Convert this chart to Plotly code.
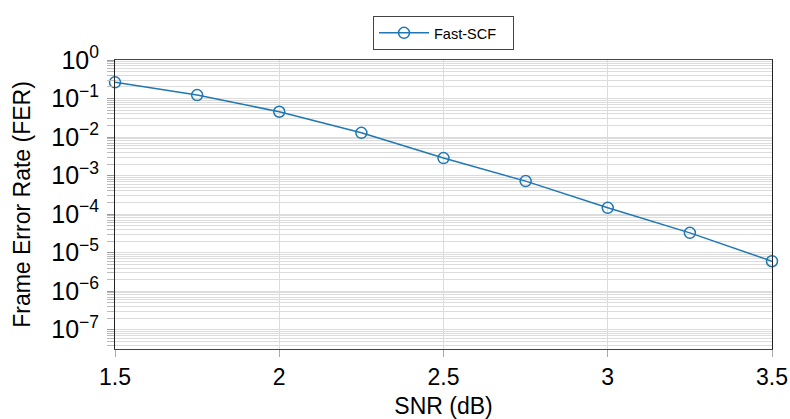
import plotly.graph_objects as go

# Frame error rate of the Fast-SCF decoder versus SNR
snr_db = [1.5, 1.75, 2.0, 2.25, 2.5, 2.75, 3.0, 3.25, 3.5]
fer = [2.63e-1, 1.23e-1, 4.54e-2, 1.29e-2, 2.85e-3, 7.2e-4, 1.46e-4, 3.27e-5, 6.0e-6]

x_ticks = [1.5, 2, 2.5, 3, 3.5]
x_tick_text = ["1.5", "2", "2.5", "3", "3.5"]
y_exponents = [0, -1, -2, -3, -4, -5, -6, -7]

y_tick_vals = [10.0 ** e for e in y_exponents]
y_tick_text = ["10<sup>%s</sup>" % (str(e).replace("-", "\u2212")) for e in y_exponents]
y_minor_vals = [m * 10.0 ** e for e in range(-8, 0) for m in range(2, 10)]

FONT = "Liberation Sans, Arial, Helvetica, sans-serif"
BLUE = "#1f77b4"
GRID = "#dcdcdc"

fig = go.Figure()
fig.add_trace(go.Scatter(
    x=snr_db, y=fer, mode="lines+markers", name="Fast-SCF",
    line=dict(color=BLUE, width=1.5),
    marker=dict(symbol="circle-open", size=11, color=BLUE, line=dict(width=1.5, color=BLUE)),
    cliponaxis=False,
))

fig.update_layout(
    width=790, height=419,
    margin=dict(l=115, r=18, t=60, b=70, autoexpand=False),
    paper_bgcolor="white", plot_bgcolor="white",
    font=dict(family=FONT, color="black"),
    showlegend=True,
    legend=dict(
        orientation="h",
        x=0.5, xanchor="center", y=0.962, yref="container", yanchor="top",
        bordercolor="#444", borderwidth=1, bgcolor="white",
        font=dict(size=14.5, family=FONT),
        itemwidth=50, entrywidth=74, entrywidthmode="pixels",
    ),
)

fig.update_xaxes(
    range=[1.5, 3.5], tickmode="array", tickvals=x_ticks, ticktext=x_tick_text,
    automargin=False,
    showgrid=True, gridcolor=GRID, gridwidth=1, zeroline=False,
    showline=True, linecolor="#444", linewidth=1, mirror=True,
    ticks="outside", ticklen=7, tickcolor="#aaa", tickwidth=1,
    tickfont=dict(size=23, family=FONT),
    title=dict(text="SNR (dB)", font=dict(size=23, family=FONT), standoff=9),
)
fig.update_yaxes(
    type="log", range=[-7.5, 0], tickmode="array", tickvals=y_tick_vals, ticktext=y_tick_text,
    automargin=False, ticklabelstandoff=3,
    showgrid=True, gridcolor=GRID, gridwidth=1, zeroline=False,
    showline=True, linecolor="#222", linewidth=1, mirror=True,
    ticks="outside", ticklen=7, tickcolor="#999", tickwidth=1,
    tickfont=dict(size=25, family=FONT),
    minor=dict(tickmode="array", tickvals=y_minor_vals, ticks="outside", ticklen=7,
               tickcolor="#bbb", showgrid=True, gridcolor=GRID, gridwidth=1),
    title=dict(text="Frame Error Rate (FER)", font=dict(size=23, family=FONT), standoff=14),
)

fig.write_html("out.html")
